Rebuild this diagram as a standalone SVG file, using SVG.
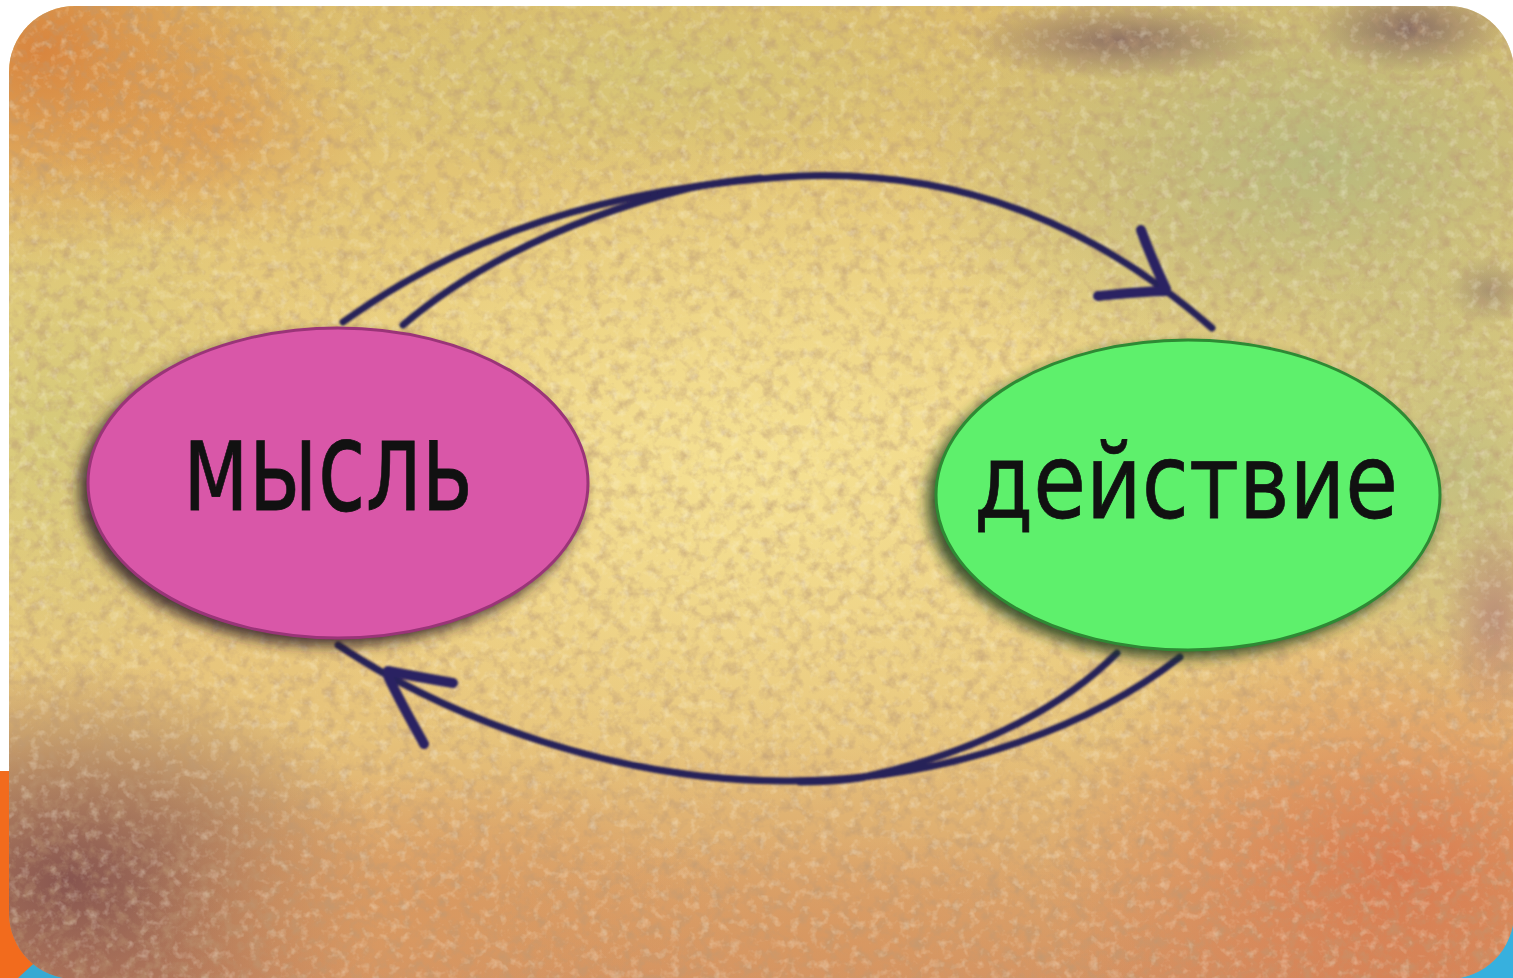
<svg xmlns="http://www.w3.org/2000/svg" width="1513" height="978" viewBox="0 0 1513 978">
<defs>
<clipPath id="frame"><rect x="9" y="6" width="1505" height="973" rx="66" ry="66"/></clipPath>
<linearGradient id="base" x1="0" y1="0" x2="0" y2="1">
<stop offset="0" stop-color="#dcbc6c"/>
<stop offset="0.45" stop-color="#ecd283"/>
<stop offset="0.75" stop-color="#e6c27a"/>
<stop offset="1" stop-color="#d49464"/>
</linearGradient>
<radialGradient id="g-tl"><stop offset="0" stop-color="#d8823c" stop-opacity="0.95"/><stop offset="1" stop-color="#d8823c" stop-opacity="0"/></radialGradient>
<radialGradient id="g-center"><stop offset="0" stop-color="#f6e294" stop-opacity="0.9"/><stop offset="1" stop-color="#f6e294" stop-opacity="0"/></radialGradient>
<radialGradient id="g-tr"><stop offset="0" stop-color="#b4b87e" stop-opacity="0.9"/><stop offset="1" stop-color="#b4b87e" stop-opacity="0"/></radialGradient>
<radialGradient id="g-ml"><stop offset="0" stop-color="#d2c878" stop-opacity="0.85"/><stop offset="1" stop-color="#d2c878" stop-opacity="0"/></radialGradient>
<radialGradient id="g-bl"><stop offset="0" stop-color="#7e4c4c" stop-opacity="0.9"/><stop offset="1" stop-color="#7e4c4c" stop-opacity="0"/></radialGradient>
<radialGradient id="g-br"><stop offset="0" stop-color="#d8744c" stop-opacity="0.85"/><stop offset="1" stop-color="#d8744c" stop-opacity="0"/></radialGradient>
<radialGradient id="g-bc"><stop offset="0" stop-color="#d8965e" stop-opacity="0.8"/><stop offset="1" stop-color="#d8965e" stop-opacity="0"/></radialGradient>
<radialGradient id="g-pur"><stop offset="0" stop-color="#5e3a58" stop-opacity="0.7"/><stop offset="1" stop-color="#5e3a58" stop-opacity="0"/></radialGradient>
<radialGradient id="g-pink"><stop offset="0" stop-color="#a86a74" stop-opacity="0.6"/><stop offset="1" stop-color="#a86a74" stop-opacity="0"/></radialGradient>
<filter id="tex" x="0" y="0" width="100%" height="100%">
<feTurbulence type="fractalNoise" baseFrequency="0.08" numOctaves="4" seed="7"/>
<feColorMatrix type="matrix" values="0 0 0 0 0.5  0 0 0 0 0.32  0 0 0 0 0.18  1.3 0 0 0 -0.58"/>
</filter>
<filter id="tex2" x="0" y="0" width="100%" height="100%">
<feTurbulence type="fractalNoise" baseFrequency="0.1" numOctaves="3" seed="21"/>
<feColorMatrix type="matrix" values="0 0 0 0 1  0 0 0 0 0.96  0 0 0 0 0.82  0 1.2 0 0 -0.62"/>
</filter>
<filter id="blur8"><feGaussianBlur stdDeviation="7"/></filter>
<filter id="soft"><feGaussianBlur stdDeviation="0.8"/></filter>
<style>
.line{fill:none;stroke:#272058;stroke-width:7;stroke-linecap:round}
.barb{fill:none;stroke:#2a2262;stroke-width:10;stroke-linecap:round}
.label{font-family:"DejaVu Sans","Noto Sans",sans-serif;fill:#111;stroke:#111;stroke-width:0.8}
</style>
</defs>

<rect x="0" y="0" width="1513" height="978" fill="#ffffff"/>
<rect x="0" y="771" width="70" height="207" fill="#f26b1d"/>
<polygon points="18,978 90,912 90,978" fill="#37a9d3"/>
<rect x="1400" y="860" width="113" height="118" fill="#37b0de"/>

<g id="background" clip-path="url(#frame)">
<rect x="0" y="0" width="1513" height="978" fill="url(#base)"/>
<ellipse cx="40" cy="50" rx="260" ry="220" fill="url(#g-tl)"/>
<ellipse cx="220" cy="130" rx="160" ry="120" fill="url(#g-tl)" opacity="0.45"/>
<ellipse cx="50" cy="430" rx="230" ry="280" fill="url(#g-ml)"/>
<ellipse cx="650" cy="70" rx="380" ry="120" fill="url(#g-ml)" opacity="0.8"/>
<ellipse cx="760" cy="470" rx="560" ry="340" fill="url(#g-center)"/>
<ellipse cx="1320" cy="160" rx="420" ry="260" fill="url(#g-tr)"/>
<ellipse cx="1460" cy="470" rx="200" ry="240" fill="url(#g-tr)" opacity="0.8"/>
<ellipse cx="1120" cy="40" rx="160" ry="40" fill="url(#g-pur)" opacity="0.8"/>
<ellipse cx="1410" cy="28" rx="100" ry="45" fill="url(#g-pur)" opacity="0.85"/>
<ellipse cx="1490" cy="290" rx="45" ry="35" fill="url(#g-pur)" opacity="0.5"/>
<ellipse cx="1495" cy="620" rx="55" ry="110" fill="url(#g-pink)"/>
<ellipse cx="70" cy="880" rx="320" ry="220" fill="url(#g-bl)"/>
<ellipse cx="430" cy="910" rx="300" ry="140" fill="url(#g-bc)"/>
<ellipse cx="820" cy="940" rx="350" ry="110" fill="url(#g-bc)" opacity="0.8"/>
<ellipse cx="1400" cy="870" rx="360" ry="250" fill="url(#g-br)"/>
<rect x="0" y="0" width="1513" height="978" filter="url(#tex)"/>
<rect x="0" y="0" width="1513" height="978" filter="url(#tex2)" opacity="0.7"/>
</g>

<g id="connectors" filter="url(#soft)">
<path class="line" d="M343,322 C430,260 560,190 800,176 C970,170 1100,230 1212,328"/>
<path class="line" d="M403,325 C450,285 540,225 690,188 C720,182 740,180 760,178"/>
<path class="barb" d="M1141,230 C1150,255 1158,272 1166,289"/>
<path class="barb" d="M1098,296 C1120,294 1145,291 1166,291"/>
<path class="line" d="M1180,657 C1100,720 960,780 790,781 C620,782 450,720 338,645"/>
<path class="line" d="M1117,653 C1070,700 990,750 860,778 C840,781 820,782 800,782"/>
<path class="barb" d="M453,683 C430,679 408,675 388,671"/>
<path class="barb" d="M424,744 C412,722 399,700 388,676"/>
</g>

<g id="node-mysl">
<ellipse cx="331" cy="490" rx="252" ry="156" fill="#2a1a28" opacity="0.85" filter="url(#blur8)"/>
<ellipse cx="338" cy="483" rx="250" ry="155" fill="#d957a8" stroke="#9a3478" stroke-width="3"/>
<text class="label" x="183" y="510" font-size="126" textLength="290" lengthAdjust="spacingAndGlyphs">мысль</text>
</g>

<g id="node-deistvie">
<ellipse cx="1181" cy="502" rx="254" ry="156" fill="#1c3a1c" opacity="0.85" filter="url(#blur8)"/>
<ellipse cx="1188" cy="495" rx="252" ry="155" fill="#5ef06c" stroke="#2e8a34" stroke-width="3"/>
<text class="label" x="974" y="518" font-size="104" textLength="424" lengthAdjust="spacingAndGlyphs">действие</text>
</g>
</svg>
